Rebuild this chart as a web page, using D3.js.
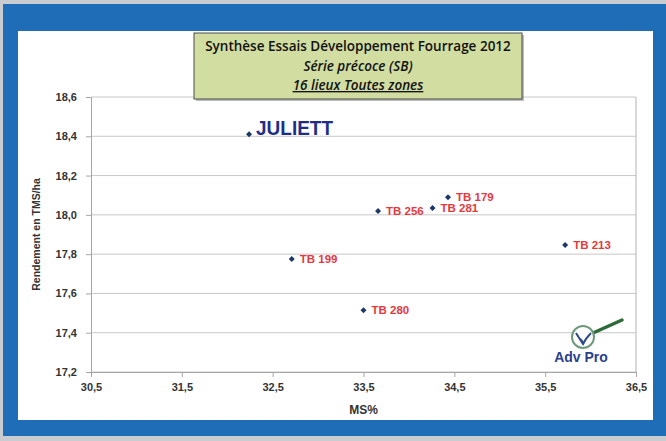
<!DOCTYPE html>
<html>
<head>
<meta charset="utf-8">
<script src="https://cdn.jsdelivr.net/npm/d3@7"></script>
<style>
  body { margin: 0; background: #c9cdd1; }
  svg { display: block; }
  .axis text { font: bold 11px "Liberation Sans", Arial, sans-serif; fill: #333; }
  .axis path, .axis line { stroke: #a6a6a6; }
</style>
</head>
<body>
<div id="chart"></div>
<script>
// varieties, MS% and yield (TMS/ha)
var names = ["JULIETT", "TB 199", "TB 280", "TB 256", "TB 281", "TB 179", "TB 213"];
var msValues = [32.24, 32.71, 33.50, 33.66, 34.26, 34.43, 35.72];
var yieldValues = [18.41, 17.775, 17.515, 18.02, 18.035, 18.09, 17.846];

var xTicks = [30.5, 31.5, 32.5, 33.5, 34.5, 35.5, 36.5];
var yTicks = [17.2, 17.4, 17.6, 17.8, 18.0, 18.2, 18.4, 18.6];

var titleLines = ["Synthèse Essais Développement Fourrage 2012", "Série précoce (SB)", "16 lieux Toutes zones"];

var W = 666, H = 441;
var margin = { top: 97, right: 30, bottom: 69, left: 91 };
var width = W - margin.left - margin.right,
    height = H - margin.top - margin.bottom;

var fmt = function(d) { return d3.format(".1f")(d).replace(".", ","); };

var svg = d3.select("#chart").append("svg")
    .attr("width", W)
    .attr("height", H);

// frame: grey band, blue border, white panel
svg.append("rect").attr("x", 0).attr("y", 0).attr("width", W).attr("height", H).attr("fill", "#c9cdd1");
svg.append("rect").attr("x", 3).attr("y", 4).attr("width", W - 3).attr("height", 432).attr("fill", "#1f6db7");
svg.append("rect").attr("x", 18).attr("y", 31).attr("width", 635).attr("height", 389).attr("fill", "#ffffff");

var g = svg.append("g")
    .attr("transform", "translate(" + margin.left + "," + margin.top + ")");

var x = d3.scaleLinear().domain([30.5, 36.5]).range([0, width]);
var y = d3.scaleLinear().domain([17.2, 18.6]).range([height, 0]);

// gridlines
g.selectAll(".grid")
    .data(yTicks)
    .enter().append("line")
    .attr("class", "grid")
    .attr("x1", 0).attr("x2", width)
    .attr("y1", function(d) { return y(d); })
    .attr("y2", function(d) { return y(d); })
    .attr("stroke", "#c8c8c8");

// right border
g.append("line")
    .attr("x1", width).attr("x2", width)
    .attr("y1", 0).attr("y2", height)
    .attr("stroke", "#b4b4b4");

g.append("g")
    .attr("class", "x axis")
    .attr("transform", "translate(0," + height + ")")
    .call(d3.axisBottom(x).tickValues(xTicks).tickFormat(fmt).tickSize(5).tickPadding(6));

g.append("g")
    .attr("class", "y axis")
    .call(d3.axisLeft(y).tickValues(yTicks).tickFormat(fmt).tickSize(5).tickPadding(9));

g.selectAll(".axis .domain").attr("stroke", "#a6a6a6");

// axis titles
svg.append("text")
    .attr("x", margin.left + width / 2)
    .attr("y", 414)
    .attr("text-anchor", "middle")
    .style("font", "bold 12px 'Liberation Sans', Arial, sans-serif")
    .style("fill", "#333")
    .text("MS%");

svg.append("text")
    .attr("transform", "translate(40," + (margin.top + height / 2) + ") rotate(-90)")
    .attr("text-anchor", "middle")
    .style("font", "bold 10.5px 'Liberation Sans', Arial, sans-serif")
    .style("fill", "#333")
    .text("Rendement en TMS/ha");

// points
var data = names.map(function(n, i) { return { name: n, ms: msValues[i], yld: yieldValues[i] }; });

g.selectAll(".dot")
    .data(data)
    .enter().append("path")
    .attr("class", "dot")
    .attr("d", d3.symbol().type(d3.symbolSquare).size(18))
    .attr("transform", function(d) { return "translate(" + x(d.ms) + "," + y(d.yld) + ") rotate(45)"; })
    .attr("fill", "#1d3866");

g.selectAll(".lbl")
    .data(data)
    .enter().append("text")
    .attr("class", "lbl")
    .attr("x", function(d) { return x(d.ms) + (d.name == "JULIETT" ? 7 : 8); })
    .attr("y", function(d) { return y(d.yld) + (d.name == "JULIETT" ? 1 : 4); })
    .attr("textLength", function(d) { return d.name == "JULIETT" ? 77 : null; })
    .attr("lengthAdjust", "spacingAndGlyphs")
    .style("font", function(d) {
        return d.name == "JULIETT"
            ? "900 20px 'Liberation Sans Narrow', 'Arial Narrow', sans-serif"
            : "bold 11.5px 'Liberation Sans', Arial, sans-serif";
    })
    .style("fill", function(d) { return d.name == "JULIETT" ? "#1f2f86" : "#e5393d"; })
    .text(function(d) { return d.name; });

// title box
var box = svg.append("g");
box.append("rect")
    .attr("x", 196).attr("y", 35).attr("width", 328).attr("height", 66)
    .attr("fill", "#7a7a7a").attr("opacity", 0.5);
box.append("rect")
    .attr("x", 194).attr("y", 33).attr("width", 328).attr("height", 66)
    .attr("fill", "#d2dda2").attr("stroke", "#4a4a4a").attr("stroke-width", 1);
box.selectAll("text")
    .data(titleLines)
    .enter().append("text")
    .attr("x", 358)
    .attr("y", function(d, i) { return 51 + i * 19.5; })
    .attr("text-anchor", "middle")
    .style("font", "600 13.5px 'Open Sans', 'Noto Sans', sans-serif")
    .style("font-style", function(d, i) { return i > 0 ? "italic" : "normal"; })
    .style("text-decoration", function(d, i) { return i == 2 ? "underline" : "none"; })
    .style("fill", "#111")
    .text(function(d) { return d; });

// Adv Pro logo
var logo = svg.append("g");
logo.append("line")
    .attr("x1", 593).attr("y1", 333).attr("x2", 622).attr("y2", 320)
    .attr("stroke", "#2f6b3a").attr("stroke-width", 3.5).attr("stroke-linecap", "round");
logo.append("circle")
    .attr("cx", 583).attr("cy", 337).attr("r", 11)
    .attr("fill", "#fff").attr("stroke", "#6f9a7c").attr("stroke-width", 2);
logo.append("path")
    .attr("d", "M576,333 Q581,341 583,344 Q586,338 591,333 M579,338 Q583,341 583,344")
    .attr("fill", "none").attr("stroke", "#2c4a8c").attr("stroke-width", 2);
logo.append("text")
    .attr("x", 581).attr("y", 362)
    .attr("text-anchor", "middle")
    .style("font", "bold 14px 'Liberation Sans Narrow', 'Arial Narrow', sans-serif")
    .style("fill", "#2b3f8a")
    .text("Adv Pro");
</script>
</body>
</html>
